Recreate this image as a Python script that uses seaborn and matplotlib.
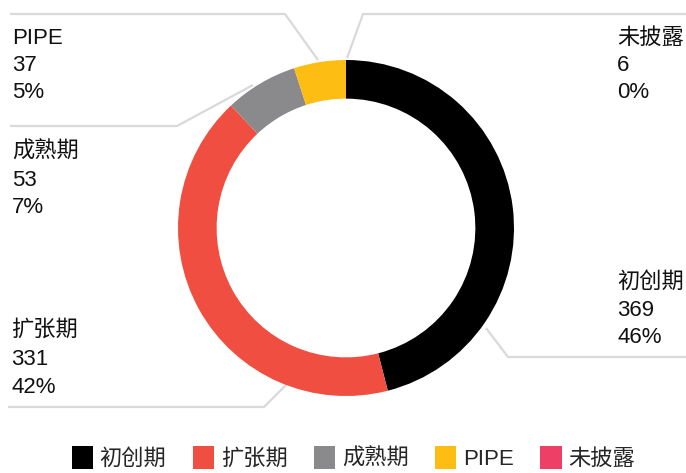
import numpy as np
import pandas as pd
import matplotlib
matplotlib.use('Agg')
import matplotlib.pyplot as plt
import seaborn as sns

# data
stages = ['初创期', '扩张期', '成熟期', 'PIPE', '未披露']
counts = [369, 331, 53, 37, 6]
shares = [46, 42, 7, 5, 0]   # percent shown in labels (ring drawn from these)
colors = ['#000000', '#F04E40', '#8A8A8D', '#FDBD12', '#EE3F66']

sns.set_theme(style='white')
plt.rcParams['font.family'] = ['Liberation Sans', 'Noto Sans CJK SC', 'DejaVu Sans']

W, H = 686, 473
fig = plt.figure(figsize=(W / 100, H / 100), dpi=100)
ax = fig.add_axes([0, 0, 1, 1])

def py(y):
    # pixel row (from top) -> data y
    return H - y

cx, cy, R = 346, 228, 168
wedges, _ = ax.pie(shares, colors=colors, startangle=90, counterclock=False,
                   radius=R, center=(cx, py(cy)),
                   wedgeprops=dict(width=R * 0.23, linewidth=0))
for w in wedges:
    w.set_zorder(3)
ax.set_xlim(0, W)
ax.set_ylim(0, H)
ax.axis('off')

# leader lines (pixel coords) and label positions
line_col = '#D9D9D9'
leaders = {
    '初创期': [(486, 328), (508, 357), (686, 357)],
    '扩张期': [(286, 385), (264, 407), (8, 407)],
    '成熟期': [(253, 85), (177, 126), (10, 126)],
    'PIPE': [(318, 60), (285, 14), (10, 14)],
    '未披露': [(347, 58), (363, 14), (686, 14)],
}
label_pos = {
    '初创期': (617, [288, 316, 343]),
    '扩张期': (11, [336, 365, 393]),
    '成熟期': (12, [158, 186, 213]),
    'PIPE': (12, [44, 71, 98]),
    '未披露': (617, [44, 71, 98]),
}

df = pd.DataFrame({'stage': stages, 'count': counts, 'share': shares})
for _, r in df.iterrows():
    pts = np.array(leaders[r['stage']], dtype=float)
    ax.plot(pts[:, 0], H - pts[:, 1], color=line_col, lw=1.6, zorder=1,
            solid_capstyle='butt')
    x, ys = label_pos[r['stage']]
    for txt, y in zip([r['stage'], str(r['count']), f"{r['share']}%"], ys):
        ax.text(x, py(y), txt, fontsize=16, color='#111111',
                ha='left', va='baseline')

leg = ax.legend(wedges, stages, ncol=5, loc='lower center',
                bbox_to_anchor=(0.515, -0.022), frameon=False, fontsize=16,
                handlelength=0.95, handleheight=1.25, handletextpad=0.3,
                columnspacing=1.2, borderaxespad=0.2)

fig.savefig('out.png', dpi=100)
